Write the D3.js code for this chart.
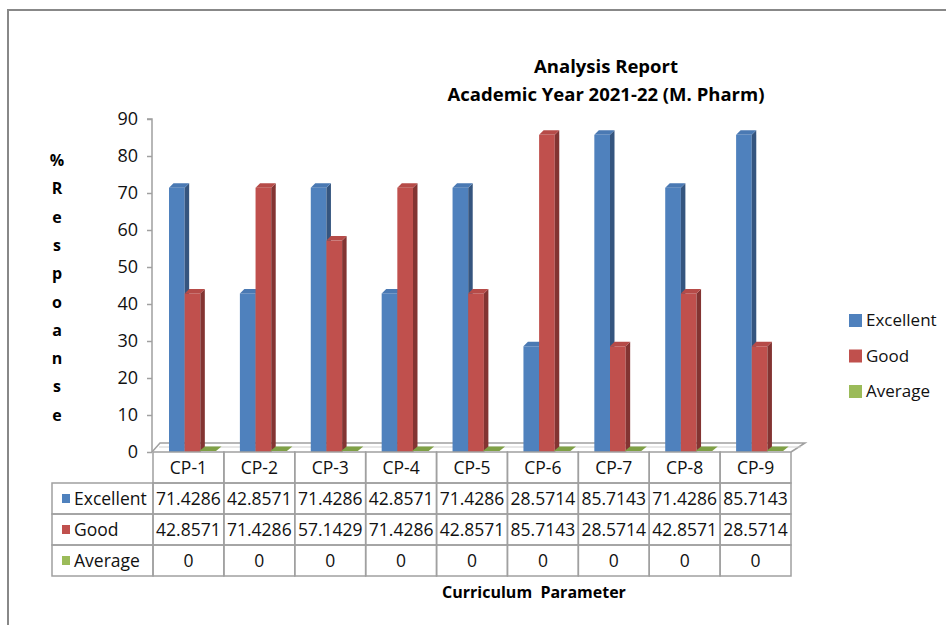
<!DOCTYPE html>
<html><head><meta charset="utf-8">
<script src="https://cdn.jsdelivr.net/npm/d3@7"></script>
<style>body{margin:0;background:#fff;} svg{display:block;}</style>
</head><body>
<svg id="c" width="946" height="625"></svg>
<script>
const categories = ["CP-1","CP-2","CP-3","CP-4","CP-5","CP-6","CP-7","CP-8","CP-9"];
const seriesNames = ["Excellent","Good","Average"];
const excellent = [71.4286,42.8571,71.4286,42.8571,71.4286,28.5714,85.7143,71.4286,85.7143];
const good = [42.8571,71.4286,57.1429,71.4286,42.8571,85.7143,28.5714,42.8571,28.5714];
const average = [0,0,0,0,0,0,0,0,0];
const yTicks = [0,10,20,30,40,50,60,70,80,90];
const titleLines = ["Analysis Report","Academic Year 2021-22 (M. Pharm)"];
const yTitle = ["%","R","e","s","p","o","a","n","s","e"];
const xTitle = "Curriculum  Parameter";

const seriesValues = [excellent, good, average];
const colors = {front:["#4F81BD","#C0504D","#9BBB59"], side:["#35557f","#833432","#6d8a3a"], top:["#4a79b3","#b64b48","#7fa046"]};

const svg = d3.select("#c");
const F = "'Open Sans', 'Liberation Sans', sans-serif";

// frame
svg.append("path").attr("d","M8,625 L8,10 L946,10").attr("fill","none").attr("stroke","#888").attr("stroke-width",2);

const x0 = 153, x1 = 791;
const x = d3.scaleBand().domain(categories).range([x0,x1]).padding(0);
const y = d3.scaleLinear().domain([0,90]).range([452,119]);
const inner = d3.scaleBand().domain(seriesNames).range([16,63]).padding(0);
const D = 4.5; // bar depth
const FD = {dx:11, dy:-9}; // floor depth

// floor
svg.append("path")
  .attr("d",`M${x0-1},${y(0)} L${x0-1+FD.dx-3},${y(0)+FD.dy} L${x1+FD.dx+3},${y(0)+FD.dy} L${x1},${y(0)}`)
  .attr("fill","#fff").attr("stroke","#a0a0a0").attr("stroke-width",1.5);
svg.append("line").attr("x1",x0+6).attr("x2",x1+10).attr("y1",y(0)-5).attr("y2",y(0)-5).attr("stroke","#d0d0d0").attr("stroke-width",1);

// y axis
const yAxis = d3.axisLeft(y).tickValues(yTicks).tickSize(5).tickPadding(9);
const ga = svg.append("g").attr("transform",`translate(${x0-1},0)`).call(yAxis);
ga.select(".domain").attr("stroke","#a0a0a0").attr("stroke-width",1.5).attr("d",`M-5,${y(90)}H0V${y(0)}`);
ga.selectAll(".tick line").attr("stroke","#a0a0a0").attr("stroke-width",1.5);
ga.selectAll(".tick text").attr("font-family",F).attr("font-size",18).attr("fill","#111");

// bars
const gb = svg.append("g");
categories.forEach((c,ci)=>{
  seriesNames.forEach((s,si)=>{
    const v = seriesValues[si][ci];
    const bx = x(c)+inner(s), bw = inner.bandwidth();
    const yt = y(v), yb = y(0);
    const g = gb.append("g");
    if (v > 0) {
      g.append("rect").attr("x",bx).attr("y",yt).attr("width",bw).attr("height",yb-yt).attr("fill",colors.front[si]);
      g.append("path").attr("d",`M${bx+bw},${yt} L${bx+bw+D},${yt-D} L${bx+bw+D},${yb-D} L${bx+bw},${yb} Z`).attr("fill",colors.side[si]);
      g.append("path").attr("d",`M${bx},${yt} L${bx+D},${yt-D} L${bx+bw+D},${yt-D} L${bx+bw},${yt} Z`).attr("fill",colors.top[si]);
    } else {
      g.append("path").attr("d",`M${bx-1},${yb-1} L${bx+D},${yb-D-1} L${bx+bw+D+1},${yb-D-1} L${bx+bw},${yb-1} Z`).attr("fill",colors.top[si]);
    }
  });
});

// title
svg.append("g").selectAll("text").data(titleLines).join("text")
  .attr("x",606).attr("y",(d,i)=>73+i*28).attr("text-anchor","middle")
  .attr("font-family","'Liberation Sans Narrow', 'Open Sans', sans-serif").attr("font-weight","bold").attr("font-size",18.5)
  .attr("fill","#000").text(d=>d);

// y title letters
svg.append("g").selectAll("text").data(yTitle).join("text")
  .attr("x",57).attr("y",(d,i)=>166+i*28.3).attr("text-anchor","middle")
  .attr("font-family",F).attr("font-weight","bold").attr("font-size",16).attr("fill","#000").text(d=>d);

// legend
const lg = svg.append("g");
seriesNames.forEach((s,i)=>{
  const ly = 320 + i*35.5;
  lg.append("rect").attr("x",849).attr("y",ly-6).attr("width",13).attr("height",13).attr("fill",colors.front[i]);
  lg.append("text").attr("x",866).attr("y",ly+6).attr("font-family",F).attr("font-size",17).attr("fill","#111").text(s);
});

// data table
const tg = svg.append("g");
const rowTop = [452,483,514,545,576];
const gridC = "#a0a0a0";
const TS = 17.5;
categories.forEach(c=>{
  tg.append("rect").attr("x",x(c)).attr("y",rowTop[0]).attr("width",x.bandwidth()).attr("height",rowTop[1]-rowTop[0])
    .attr("fill","none").attr("stroke",gridC).attr("stroke-width",1.5);
  tg.append("text").attr("x",x(c)+x.bandwidth()/2).attr("y",rowTop[0]+22).attr("text-anchor","middle")
    .attr("font-family",F).attr("font-size",TS).attr("fill","#111").text(c);
});
seriesNames.forEach((s,si)=>{
  const ty = rowTop[si+1], th = rowTop[si+2]-ty;
  tg.append("rect").attr("x",52).attr("y",ty).attr("width",x0-52).attr("height",th).attr("fill","none").attr("stroke",gridC).attr("stroke-width",1.5);
  tg.append("rect").attr("x",62).attr("y",ty+11).attr("width",8).attr("height",9).attr("fill",colors.front[si]);
  tg.append("text").attr("x",74).attr("y",ty+22).attr("font-family",F).attr("font-size",TS).attr("fill","#111").text(s);
  categories.forEach((c,ci)=>{
    tg.append("rect").attr("x",x(c)).attr("y",ty).attr("width",x.bandwidth()).attr("height",th).attr("fill","none").attr("stroke",gridC).attr("stroke-width",1.5);
    tg.append("text").attr("x",x(c)+x.bandwidth()/2).attr("y",ty+22).attr("text-anchor","middle")
      .attr("font-family",F).attr("font-size",TS).attr("fill","#111").text(seriesValues[si][ci]);
  });
});

// x title
svg.append("text").attr("x",534).attr("y",598).attr("text-anchor","middle")
  .attr("font-family",F).attr("font-weight","bold").attr("font-size",16).attr("fill","#000")
  .style("white-space","pre").text(xTitle);
</script>
</body></html>
